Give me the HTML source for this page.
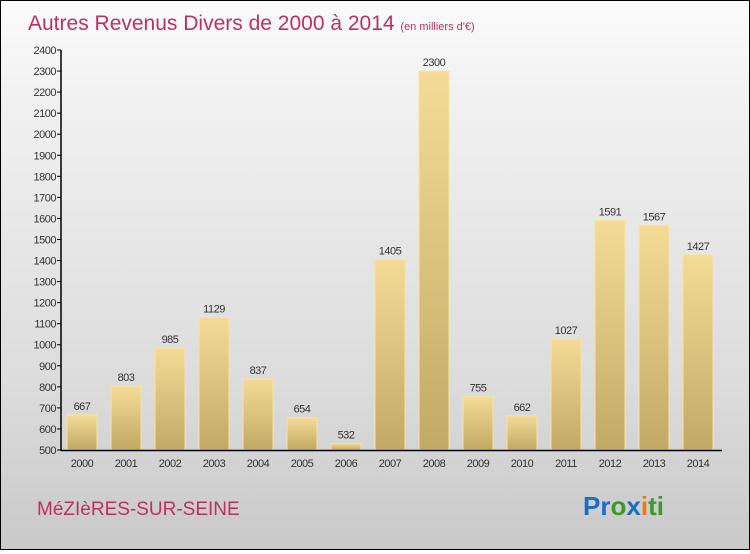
<!DOCTYPE html>
<html><head><meta charset="utf-8"><style>
html,body{margin:0;padding:0}
body{width:750px;height:550px;overflow:hidden;font-family:"Liberation Sans",sans-serif}
#wrap{position:absolute;left:0;top:0;width:748px;height:548px;border:1px solid #000;background:linear-gradient(#fbfbfb,#f0f0f0 20%,#dcdcdc 70%,#c9c9c9)}
</style></head><body>
<div id="wrap">
<svg width="748" height="548" xmlns="http://www.w3.org/2000/svg" id="svg">
<defs><linearGradient id="bg" x1="0" y1="0" x2="0" y2="1"><stop offset="0" stop-color="#f4dc96"/><stop offset="1" stop-color="#c2a965"/></linearGradient></defs>
<text x="27" y="29" font-size="21" fill="#c0305e">Autres Revenus Divers de 2000 à 2014 <tspan font-size="11">(en milliers d'€)</tspan></text>
<g id="plot"></g>
<text x="36" y="514" font-size="19" fill="#c0305e">MéZIèRES-SUR-SEINE</text>
<text x="582" y="514" font-size="26" font-weight="bold"><tspan fill="#1a6fc4">Pr</tspan><tspan fill="#3a9a2a">o</tspan><tspan fill="#1a6fc4">x</tspan><tspan fill="#f07a10">i</tspan><tspan fill="#3a9a2a">ti</tspan></text>
</svg></div>
<script>
const years=["2000","2001","2002","2003","2004","2005","2006","2007","2008","2009","2010","2011","2012","2013","2014"];
const values=[667,803,985,1129,837,654,532,1405,2300,755,662,1027,1591,1567,1427];
const ticks=[500,600,700,800,900,1000,1100,1200,1300,1400,1500,1600,1700,1800,1900,2000,2100,2200,2300,2400];
const NS="http://www.w3.org/2000/svg";
const g=document.getElementById('plot');
const y=v=>449-(v-500)*(400/1900);
const x=i=>81+44*i;
function mk(t,a){const e=document.createElementNS(NS,t);for(const k in a)e.setAttribute(k,a[k]);g.appendChild(e);return e;}
ticks.forEach(t=>{
 const l=mk('line',{x1:56,x2:60,y1:y(t),y2:y(t),stroke:'#000'});
 
 
 const tx=mk('text',{x:55,y:y(t)+4,'font-size':11,'text-anchor':'end',fill:'#333','letter-spacing':'-0.5'});
 tx.textContent=t;
 
 
});
values.forEach((v,i)=>{
 const r=mk('rect',{x:x(i)-15,y:y(v),width:30,height:449-y(v),fill:'url(#bg)',stroke:'#f6e4a4','stroke-width':1});
 
 
 const t=mk('text',{x:x(i),y:y(v)-5,'font-size':11,'text-anchor':'middle',fill:'#333','letter-spacing':'-0.5'});
 t.textContent=v;
 
 
 const xl=mk('text',{x:x(i),y:466,'font-size':11,'text-anchor':'middle',fill:'#333','letter-spacing':'-0.5'});
 xl.textContent=years[i];
 
 
});
const ya=mk('line',{x1:60,x2:60,y1:y(2400),y2:450,stroke:'#000','stroke-width':1.5});


const xa=mk('line',{x1:60,x2:721,y1:449.5,y2:449.5,stroke:'#000','stroke-width':1.5});


</script>
</body></html>
